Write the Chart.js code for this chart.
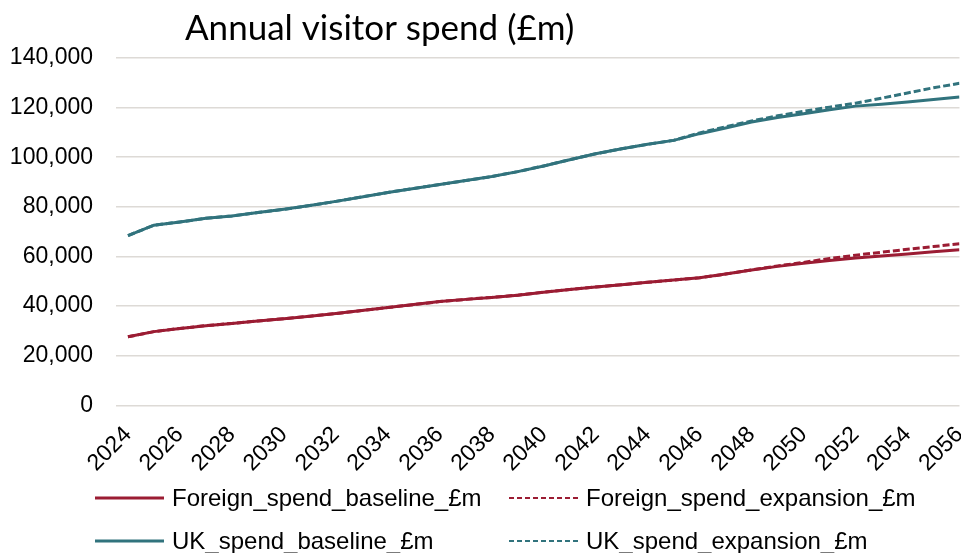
<!DOCTYPE html>
<html>
<head>
<meta charset="utf-8">
<script src="https://cdn.jsdelivr.net/npm/chart.js@4"></script>
<style>
    html, body { margin: 0; padding: 0; background: #fff; overflow: hidden; }
</style>
</head>
<body>
<canvas id="spendChart" width="981" height="553"></canvas>
<script>
// yearly projections, £m
const years = [2024, 2025, 2026, 2027, 2028, 2029, 2030, 2031, 2032, 2033, 2034,
    2035, 2036, 2037, 2038, 2039, 2040, 2041, 2042, 2043, 2044, 2045, 2046,
    2047, 2048, 2049, 2050, 2051, 2052, 2053, 2054, 2055, 2056];
const tickYears = [2024, 2026, 2028, 2030, 2032, 2034, 2036, 2038, 2040,
    2042, 2044, 2046, 2048, 2050, 2052, 2054, 2056];

const foreignBaseline = [27600, 29700, 31000, 32100, 33000, 34000, 34900, 35900,
    37000, 38200, 39400, 40600, 41800, 42700, 43500, 44400, 45600, 46700, 47700,
    48600, 49600, 50500, 51400, 52900, 54500, 56000, 57300, 58400, 59400, 60200,
    61000, 61900, 62700];
const foreignExpansion = [27600, 29700, 31000, 32100, 33000, 34000, 34900, 35900,
    37000, 38200, 39400, 40600, 41800, 42700, 43500, 44400, 45600, 46700, 47700,
    48600, 49600, 50500, 51400, 52900, 54600, 56200, 57600, 59200, 60500, 61700,
    62900, 64000, 65100];
const ukBaseline = [68400, 72600, 73900, 75400, 76300, 77700, 79000, 80500, 82200,
    84000, 85800, 87400, 89000, 90600, 92200, 94200, 96500, 99000, 101400, 103400,
    105200, 106800, 109500, 111800, 114200, 116000, 117500, 119100, 120600, 121400,
    122300, 123300, 124300];
const ukExpansion = [68400, 72600, 73900, 75400, 76300, 77700, 79000, 80500, 82200,
    84000, 85800, 87400, 89000, 90600, 92200, 94200, 96500, 99000, 101400, 103400,
    105200, 106800, 109800, 112300, 114600, 116700, 118500, 120200, 121800, 123800,
    125900, 128000, 129800];

const seriesNames = ["Foreign_spend_baseline_£m", "Foreign_spend_expansion_£m",
    "UK_spend_baseline_£m", "UK_spend_expansion_£m"];
const chartTitle = "Annual visitor spend (£m)";

const red = "#9B1C33";
const teal = "#31737D";

// pair each year with its value for the linear x axis
function toPoints(values) {
    return years.map((yr, i) => ({ x: yr, y: values[i] }));
}

function makeLine(label, values, colour, dashed) {
    return {
        label: label,
        data: toPoints(values),
        borderColor: colour,
        backgroundColor: colour,
        borderWidth: 3,
        borderDash: dashed ? [7, 3] : [],
        pointRadius: 0,
        tension: 0,
        fill: false,
    };
}

// title and a two column legend, drawn straight onto the canvas
const titleAndKey = {
    id: "titleAndKey",
    afterDraw(chart) {
        const ctx = chart.ctx;
        ctx.save();
        ctx.fillStyle = "#000";
        ctx.font = "35px Lato";
        ctx.textAlign = "left";
        ctx.textBaseline = "alphabetic";
        ctx.fillText(chartTitle, 185, 40);

        const colX = [95, 509];
        const rowY = [498, 541];
        ctx.font = "24px 'Liberation Sans'";
        ctx.textBaseline = "middle";
        chart.data.datasets.forEach((ds, i) => {
            const x = colX[i % 2];
            const y = rowY[Math.floor(i / 2)];
            ctx.strokeStyle = ds.borderColor;
            ctx.lineWidth = ds.borderDash.length ? 2 : 3;
            ctx.setLineDash(ds.borderDash.length ? [5, 3] : []);
            ctx.beginPath();
            ctx.moveTo(x, y);
            ctx.lineTo(x + 69, y);
            ctx.stroke();
            ctx.fillText(ds.label, x + 77, y + 1);
        });
        ctx.restore();
    },
};

const config = {
    type: "line",
    data: {
        datasets: [
            makeLine(seriesNames[0], foreignBaseline, red, false),
            makeLine(seriesNames[1], foreignExpansion, red, true),
            makeLine(seriesNames[2], ukBaseline, teal, false),
            makeLine(seriesNames[3], ukExpansion, teal, true),
        ],
    },
    options: {
        responsive: false,
        animation: false,
        layout: { padding: { top: 58, left: 8, right: 0, bottom: 74 } },
        plugins: {
            legend: { display: false },
            title: { display: false },
            tooltip: { enabled: false },
        },
        scales: {
            x: {
                type: "linear",
                min: 2023.54,
                max: 2056,
                afterBuildTicks: (axis) => {
                    axis.ticks = tickYears.map((v) => ({ value: v }));
                },
                // invisible tick marks keep the labels clear of the axis
                grid: {
                    drawOnChartArea: false,
                    drawTicks: true,
                    tickLength: 14,
                    tickColor: "rgba(0,0,0,0)",
                },
                border: { display: false },
                ticks: {
                    autoSkip: false,
                    minRotation: 45,
                    maxRotation: 45,
                    padding: 2,
                    color: "#000",
                    font: { family: "'Liberation Sans'", size: 23 },
                    callback: (v) => String(v),
                },
            },
            y: {
                min: 0,
                max: 140000,
                afterFit: (axis) => {
                    axis.width = 108;
                },
                grid: { color: "#DDDAD6", lineWidth: 1.5, drawTicks: false },
                border: { display: false },
                ticks: {
                    stepSize: 20000,
                    padding: 23,
                    color: "#000",
                    font: { family: "'Liberation Sans'", size: 23 },
                    callback: (v) => v.toLocaleString("en-US"),
                },
            },
        },
    },
    plugins: [titleAndKey],
};

var spendChart = new Chart(document.getElementById("spendChart"), config);
</script>
</body>
</html>
